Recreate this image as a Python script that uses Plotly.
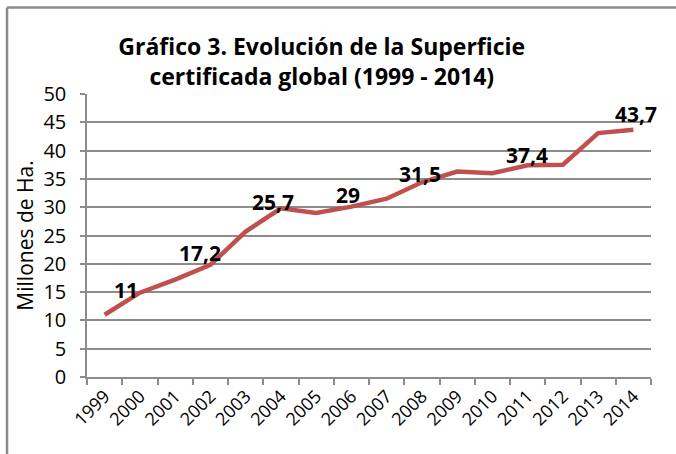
import plotly.graph_objects as go

years = ["1999", "2000", "2001", "2002", "2003", "2004", "2005", "2006",
         "2007", "2008", "2009", "2010", "2011", "2012", "2013", "2014"]
surface = [11.0, 14.9, 17.2, 19.8, 25.7, 29.8, 29.0, 30.1,
           31.5, 34.4, 36.3, 36.0, 37.4, 37.5, 43.1, 43.7]
label_years = ["1999", "2001", "2003", "2005", "2007", "2011", "2014"]
label_texts = ["11", "17,2", "25,7", "29", "31,5", "37,4", "43,7"]
# label pixel offsets (style)
label_dx = [21, 25, 27, 32, 33, -1, 3]
label_dy = [25, 27, 30, 18, 25, 10, 16]

RED = "#C0504D"
GRID = "#8C8C8C"
FONT = "Open Sans"

fig = go.Figure()
fig.add_trace(go.Scatter(
    x=years, y=surface, mode="lines",
    line=dict(color=RED, width=4.5),
    hoverinfo="skip", showlegend=False,
))

for yr, t, dx, dy in zip(label_years, label_texts, label_dx, label_dy):
    i = years.index(yr)
    fig.add_annotation(
        x=i, y=surface[i], text="<b>%s</b>" % t, showarrow=False,
        xref="x", yref="y",
        xshift=dx, yshift=dy, xanchor="center", yanchor="middle",
        font=dict(family=FONT, size=21, color="#000000"),
    )

fig.update_layout(
    width=676, height=454,
    margin=dict(l=87, r=25, t=94, b=77),
    paper_bgcolor="white", plot_bgcolor="white",
    title=dict(
        text="<b>Gráfico 3. Evolución de la Superficie<br>certificada global (1999 - 2014)</b>",
        x=0.476, xanchor="center", xref="container",
        y=0.878, yanchor="top", yref="container",
        font=dict(family=FONT, size=23, color="#000000"),
    ),
    xaxis=dict(
        type="category", range=[-0.5, 15.5],
        showline=True, linecolor=GRID, linewidth=1.5,
        ticks="outside", tickson="boundaries", ticklen=6, tickcolor=GRID, tickwidth=1.5,
        tickangle=-45, showgrid=False,
        tickfont=dict(family=FONT, size=18, color="#000000"),
    ),
    yaxis=dict(
        range=[0, 50], dtick=5, tick0=0,
        showline=True, linecolor=GRID, linewidth=1.5,
        ticks="outside", ticklen=5, tickcolor=GRID, tickwidth=1.5,
        showgrid=True, gridcolor=GRID, gridwidth=1.5,
        zeroline=False,
        ticklabelstandoff=10,
        tickfont=dict(family=FONT, size=20, color="#000000"),
        title=dict(text="Millones de Ha.", standoff=4,
                   font=dict(family=FONT, size=21, color="#000000")),
    ),
)

# outer chart frame (only left and top edges fall inside the picture)
fig.add_shape(type="line", xref="paper", yref="paper",
              x0=-0.1418, x1=-0.1418, y0=-0.6, y1=1.3057,
              line=dict(color="#8C8C8C", width=2.5))
fig.add_shape(type="line", xref="paper", yref="paper",
              x0=-0.1418, x1=1.3, y0=1.3057, y1=1.3057,
              line=dict(color="#8C8C8C", width=2.5))

fig.write_html("out.html", config={"displayModeBar": False},
               post_script="document.body.style.margin='0';")
